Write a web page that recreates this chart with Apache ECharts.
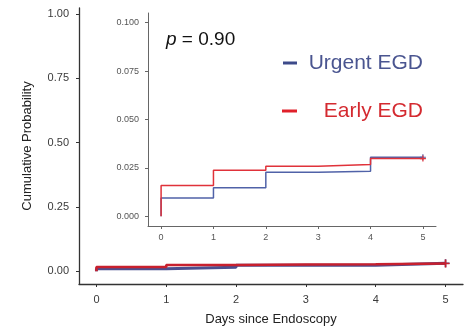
<!DOCTYPE html>
<html><head><meta charset="utf-8">
<script src="https://cdn.jsdelivr.net/npm/echarts@6/dist/echarts.min.js"></script>
<style>html,body{margin:0;padding:0;background:#fff}#c{width:471px;height:329px}</style>
</head><body><div id="c"></div>
<script>
// Kaplan-Meier style cumulative probability (step at each day)
const stepDays   = [0, 0, 1, 2, 3, 4, 5];
const urgentCum  = [0, 0.0095, 0.0147, 0.0228, 0.0233, 0.0305, 0.0305];
const earlyCum   = [0, 0.0159, 0.0238, 0.0259, 0.0268, 0.0298, 0.0298];
const dayTicks    = [0, 1, 2, 3, 4, 5];
const mainYTicks  = [0, 0.25, 0.5, 0.75, 1];
const insetYTicks = [0, 0.025, 0.05, 0.075, 0.1];
const seriesNames = ['Urgent EGD', 'Early EGD'];
const pText = '0.90';

const FONT = 'Liberation Sans, Arial, Helvetica, sans-serif';
const PLUS = 'path://M4,0H6V4H10V6H6V10H4V6H0V4H4Z';

function buildData(vals, size, color) {
  return stepDays.map((d, i) => {
    if (i === stepDays.length - 1) {
      return { value: [d, vals[i]], symbol: PLUS, symbolSize: size, itemStyle: { color: color } };
    }
    return { value: [d, vals[i]], symbol: 'none' };
  });
}

function xAxisCfg(idx, fs, margin, lineColor, labelColor) {
  return {
    type: 'value', gridIndex: idx, min: -0.25, max: 5.25, interval: 1,
    axisLine: { show: true, onZero: false, lineStyle: { color: lineColor, width: idx === 0 ? 1.3 : 1 } },
    axisTick: { show: true, customValues: dayTicks, length: 3, lineStyle: { color: lineColor } },
    axisLabel: { customValues: dayTicks, fontSize: fs, color: labelColor, fontFamily: FONT, margin: margin },
    splitLine: { show: false }
  };
}

const chart = echarts.init(document.getElementById('c'), null, { renderer: 'canvas' });
chart.setOption({
  animation: false,
  backgroundColor: '#fff',
  grid: [
    { left: 79, right: 8, top: 8, bottom: 45, outerBoundsMode: 'none', containLabel: false },
    { left: 148, width: 288, top: 13, bottom: 103, outerBoundsMode: 'none', containLabel: false }
  ],
  xAxis: [
    Object.assign(xAxisCfg(0, 11, 10, '#333', '#3a3a3a'), {
      name: 'Days since Endoscopy', nameLocation: 'middle', nameGap: 29,
      nameTextStyle: { fontSize: 13, color: '#222', fontFamily: FONT }
    }),
    xAxisCfg(1, 9, 7, '#666', '#555')
  ],
  yAxis: [
    {
      type: 'value', gridIndex: 0, min: -0.05, max: 1.0235,
      name: 'Cumulative Probability', nameLocation: 'middle', nameGap: 45, nameRotate: 90,
      nameTextStyle: { fontSize: 13, color: '#222', fontFamily: FONT },
      axisLine: { show: true, onZero: false, lineStyle: { color: '#333', width: 1.3 } },
      axisTick: { show: true, customValues: mainYTicks, length: 3, lineStyle: { color: '#333' } },
      axisLabel: { customValues: mainYTicks, fontSize: 11, color: '#3a3a3a', fontFamily: FONT, margin: 10,
        formatter: v => v.toFixed(2) },
      splitLine: { show: false }
    },
    {
      type: 'value', gridIndex: 1, min: -0.005, max: 0.105,
      axisLine: { show: true, onZero: false, lineStyle: { color: '#666', width: 1 } },
      axisTick: { show: true, customValues: insetYTicks, length: 3, lineStyle: { color: '#666' } },
      axisLabel: { customValues: insetYTicks, fontSize: 9, color: '#555', fontFamily: FONT, margin: 9,
        formatter: v => v.toFixed(3) },
      splitLine: { show: false }
    }
  ],
  series: [
    { name: seriesNames[0], type: 'line', step: 'end', xAxisIndex: 0, yAxisIndex: 0,
      data: buildData(urgentCum, 8, '#4b4f8f'), showAllSymbol: true, z: 2,
      lineStyle: { color: '#4b4f8f', width: 3 }, itemStyle: { color: '#4b4f8f' } },
    { name: seriesNames[1], type: 'line', step: 'end', xAxisIndex: 0, yAxisIndex: 0,
      data: buildData(earlyCum, 8, '#c8202e'), showAllSymbol: true, z: 3,
      lineStyle: { color: '#c8202e', width: 2.6 }, itemStyle: { color: '#c8202e' } },
    { name: seriesNames[0] + ' (inset)', type: 'line', step: 'end', xAxisIndex: 1, yAxisIndex: 1,
      data: buildData(urgentCum, 6, '#5062a8'), showAllSymbol: true, z: 2,
      lineStyle: { color: '#5062a8', width: 1.5 }, itemStyle: { color: '#5062a8' } },
    { name: seriesNames[1] + ' (inset)', type: 'line', step: 'end', xAxisIndex: 1, yAxisIndex: 1,
      data: buildData(earlyCum, 6, '#e0323a'), showAllSymbol: true, z: 3,
      lineStyle: { color: '#e0323a', width: 1.5 }, itemStyle: { color: '#e0323a' } }
  ],
  graphic: [
    { type: 'text', left: 166, top: 30, z: 10,
      style: { text: '{i|p} = ' + pText, font: '19px ' + FONT, fill: '#111',
        rich: { i: { fontStyle: 'italic', fontSize: 19, fontFamily: FONT, fill: '#111' } } } },
    { type: 'line', z: 10, shape: { x1: 283, y1: 63, x2: 297, y2: 63 },
      style: { stroke: '#3d4a8a', lineWidth: 3 } },
    { type: 'text', z: 10, x: 423, y: 63,
      style: { text: seriesNames[0], fontSize: 21, fontFamily: FONT, fill: '#4a5590', align: 'right', verticalAlign: 'middle' } },
    { type: 'line', z: 10, shape: { x1: 282, y1: 111, x2: 297, y2: 111 },
      style: { stroke: '#e0202a', lineWidth: 3 } },
    { type: 'text', z: 10, x: 423, y: 111,
      style: { text: seriesNames[1], fontSize: 21, fontFamily: FONT, fill: '#d42a30', align: 'right', verticalAlign: 'middle' } }
  ]
});
</script>
</body></html>
